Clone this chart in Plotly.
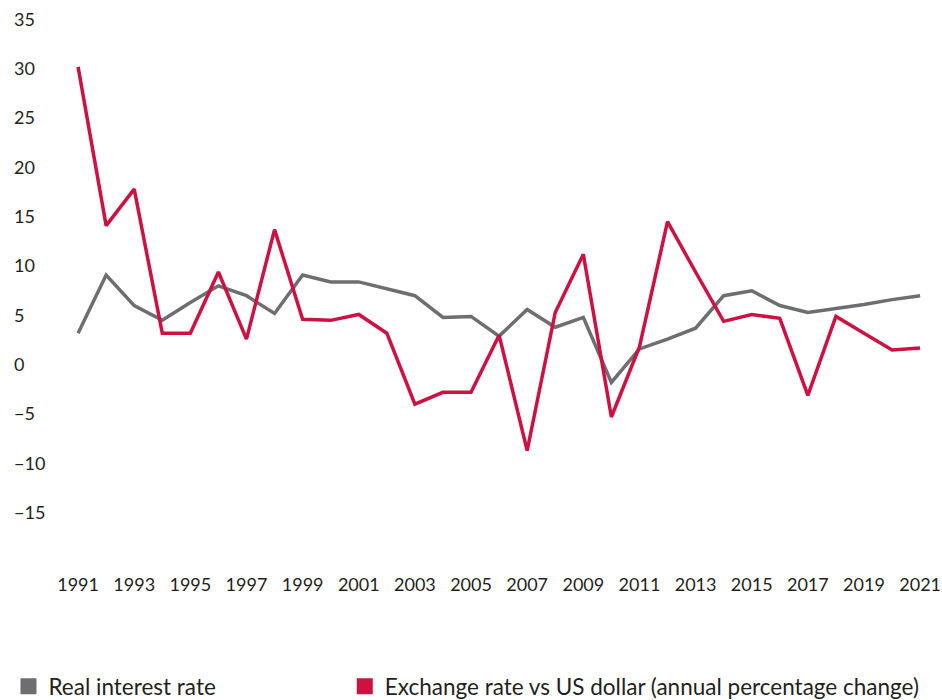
import plotly.graph_objects as go

years = list(range(1991, 2022))

real_interest_rate = [3.2, 9.1, 6.0, 4.5, 6.3, 8.0, 7.0, 5.2, 9.1, 8.4,
                      8.4, 7.7, 7.0, 4.8, 4.9, 2.9, 5.6, 3.8, 4.8, -1.8,
                      1.6, 2.6, 3.7, 7.0, 7.5, 6.0, 5.3, 5.7, 6.1, 6.6, 7.0]

exchange_rate = [30.2, 14.1, 17.8, 3.2, 3.2, 9.4, 2.6, 13.7, 4.6, 4.5,
                 5.1, 3.2, -4.0, -2.8, -2.8, 3.0, -8.7, 5.3, 11.2, -5.3,
                 1.8, 14.5, 9.4, 4.4, 5.1, 4.7, -3.1, 4.9, 3.2, 1.5, 1.7]

y_ticks = [-15, -10, -5, 0, 5, 10, 15, 20, 25, 30, 35]
x_ticks = list(range(1991, 2022, 2))

names = ["Real interest rate", "Exchange rate vs US dollar (annual percentage change)"]
colors = ["#6d6e71", "#ce1141"]
legends = ["legend", "legend2"]

font = "Lato, 'Open Sans', sans-serif"
text_color = "#231f20"

fig = go.Figure()
for series, name, color, leg in zip([real_interest_rate, exchange_rate], names, colors, legends):
    fig.add_trace(go.Scatter(x=years, y=series, mode="lines", name=name,
                             line=dict(color=color, width=3.5), showlegend=False))
    # square legend swatch, each in its own legend box
    fig.add_trace(go.Scatter(x=[None], y=[None], mode="markers", name=name, legend=leg,
                             marker=dict(symbol="square", size=16, color=color)))

fig.update_xaxes(range=[1988.61, 2021.53], tickvals=x_ticks, showgrid=False,
                 zeroline=False, showline=False, automargin=False,
                 ticks="outside", ticklen=6, tickcolor="rgba(0,0,0,0)",
                 tickfont=dict(size=18, color=text_color, family=font))
fig.update_yaxes(range=[-20, 36.98], tickvals=y_ticks, showgrid=False,
                 zeroline=False, showline=False, ticks="", automargin=False,
                 ticklabelposition="inside",
                 tickfont=dict(size=18, color=text_color, family=font))

legend_style = dict(orientation="h", xref="container", yref="container",
                    y=0.05, xanchor="left", yanchor="top",
                    font=dict(size=22.5, family=font, color=text_color))

fig.update_layout(
    width=942, height=700,
    margin=dict(l=11, r=7, t=0, b=138),
    plot_bgcolor="white", paper_bgcolor="white",
    font=dict(family=font, color=text_color),
    legend=dict(x=0.009, **legend_style),
    legend2=dict(x=0.366, **legend_style),
)

# drop the page's default body margin so the figure fills the window
fig.write_html("out.html", config={"displayModeBar": False},
               post_script="document.body.style.margin='0';")
